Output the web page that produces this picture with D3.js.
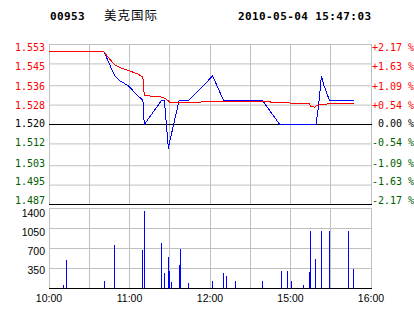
<!DOCTYPE html>
<html><head><meta charset="utf-8">
<script src="https://cdn.jsdelivr.net/npm/d3@7"></script>
<style>body{margin:0;background:#fff}svg{display:block}text{white-space:pre}</style>
</head><body>
<script>
const stockCode = "00953";
const stockName = "美克国际";
const stamp = "2010-05-04 15:47:03";
const priceTicks = [1.553,1.545,1.536,1.528,1.520,1.512,1.503,1.495,1.487];
const pctTicks = ["+2.17 %","+1.63 %","+1.09 %","+0.54 %"," 0.00 %","-0.54 %","-1.09 %","-1.63 %","-2.17 %"];
const volTicks = [1400,1050,700,350];
const timeTicks = ["10:00","10:30","11:00","11:30","12:00","12:30","15:00","15:30","16:00"];
const timeLabels = ["10:00","","11:00","","12:00","","15:00","","16:00"];

const priceTimes = ["10:00","10:41","10:45","10:49","10:53","10:59","11:06","11:10","11:11","11:24","11:26","11:29","11:30","11:37","11:44","12:02","12:10","14:39","14:52","15:19","15:21","15:23","15:24","15:25","15:29","15:47"];
const priceValues = [1.550,1.550,1.545,1.540,1.538,1.536,1.532,1.530,1.520,1.530,1.530,1.510,1.513,1.530,1.530,1.540,1.530,1.530,1.520,1.520,1.528,1.540,1.538,1.536,1.530,1.530];

const avgTimes = ["10:00","10:41","10:44","10:49","10:54","10:59","11:06","11:10","11:11","11:24","11:27","11:30","12:30","14:45","14:46","14:58","15:14","15:15","15:18","15:19","15:21","15:25","15:29","15:47"];
const avgValues = [1.5500,1.5500,1.5478,1.5446,1.5432,1.5423,1.5409,1.5395,1.5320,1.5313,1.5306,1.5292,1.5294,1.5293,1.5291,1.5289,1.5286,1.5275,1.5272,1.5276,1.5280,1.5283,1.5286,1.5286];

const volTimes = ["10:11","10:13","10:41","10:49","11:10","11:11","11:24","11:26","11:29","11:30","11:31","11:37","11:38","11:44","12:02","12:10","12:12","12:19","14:39","14:53","14:58","15:01","15:10","15:14","15:15","15:19","15:23","15:29","15:43","15:47"];
const volValues = [60,500,130,760,680,1350,800,280,550,300,120,410,700,100,130,280,220,130,130,300,300,130,60,290,1000,520,1000,1000,1000,340];

const W = 414, H = 314;
const RED = "#ff0000", GREEN = "#006000", BLUE = "#0000ff", GRID = "#c0c0c0";
const svg = d3.select("body").append("svg").attr("width", W).attr("height", H);

const toMin = t => { const [h, m] = t.split(":").map(Number); let v = h * 60 + m - 600; if (v >= 270) v -= 120; return v; };
const x = d3.scaleLinear().domain([0, 240]).range([49, 371]);
const y = d3.scaleLinear().domain([priceTicks[8], priceTicks[0]]).range([204.5, 44.5]);
const yLab = d3.scaleLinear().domain([priceTicks[8], priceTicks[0]]).range([200, 47.5]);
const yv = d3.scaleLinear().domain([0, 1400]).range([288.5, 208.5]);
const yvLab = d3.scaleLinear().domain([350, 1400]).range([270, 213.5]);
const snap = v => Math.floor(v) + 0.5;
const gx = timeTicks.map(toMin).map((m, i) => i === 5 ? 150 : m);

// header
const hdr = svg.append("g");
hdr.append("text").attr("x", 50).attr("y", 20).attr("font-family", "DejaVu Sans Mono").attr("font-weight", "bold")
  .attr("font-size", 11).attr("letter-spacing", 0.4).text(stockCode);
hdr.append("text").attr("x", 104).attr("y", 20).attr("font-family", "Noto Sans CJK SC").attr("font-size", 12.5)
  .attr("letter-spacing", 1).text(stockName);
hdr.append("text").attr("x", 238).attr("y", 20).attr("font-family", "DejaVu Sans Mono").attr("font-weight", "bold")
  .attr("font-size", 11).attr("letter-spacing", 0.4).text(stamp);

// main panel grid
const main = svg.append("g");
main.selectAll("line.vg").data(gx).join("line")
  .attr("x1", d => snap(x(d))).attr("x2", d => snap(x(d)))
  .attr("y1", y(priceTicks[0])).attr("y2", y(priceTicks[8])).attr("stroke", GRID);
main.selectAll("line.hg").data(priceTicks).join("line")
  .attr("x1", x(0)).attr("x2", x(240) + 1)
  .attr("y1", d => y(d)).attr("y2", d => y(d))
  .attr("stroke", (d, i) => (i === 4 || i === 8) ? "#000" : GRID);

main.selectAll("text.pl").data(priceTicks).join("text")
  .attr("x", 45).attr("y", d => yLab(d) + 3.6).attr("text-anchor", "end")
  .attr("font-family", "DejaVu Sans Mono").attr("font-size", 10)
  .attr("fill", (d, i) => i < 4 ? RED : i === 4 ? "#000" : GREEN)
  .text(d => d.toFixed(3));
main.selectAll("text.pr").data(pctTicks).join("text")
  .attr("x", 372).attr("y", (d, i) => yLab(priceTicks[i]) + 3.6)
  .attr("font-family", "DejaVu Sans Mono").attr("font-size", 10)
  .attr("fill", (d, i) => i < 4 ? RED : i === 4 ? "#000" : GREEN)
  .text(d => d);

const line = d3.line().x(d => x(toMin(d[0]))).y(d => y(d[1]));
main.append("path").datum(priceTimes.map((t, i) => [t, priceValues[i]]))
  .attr("d", line).attr("fill", "none").attr("stroke", BLUE).attr("stroke-width", 1).attr("shape-rendering", "crispEdges");
main.append("path").datum(avgTimes.map((t, i) => [t, avgValues[i]]))
  .attr("d", line).attr("fill", "none").attr("stroke", RED).attr("stroke-width", 1).attr("shape-rendering", "crispEdges");

// volume panel
const vol = svg.append("g");
vol.selectAll("line.vg").data(gx).join("line")
  .attr("x1", d => snap(x(d))).attr("x2", d => snap(x(d)))
  .attr("y1", yv(1400)).attr("y2", yv(0)).attr("stroke", GRID);
vol.selectAll("line.hg").data(volTicks).join("line")
  .attr("x1", x(0)).attr("x2", x(240) + 1)
  .attr("y1", d => yv(d)).attr("y2", d => yv(d)).attr("stroke", GRID);
vol.append("line").attr("x1", x(0)).attr("x2", x(240) + 1).attr("y1", yv(0)).attr("y2", yv(0)).attr("stroke", "#000");

vol.selectAll("line.bar").data(volTimes.map((t, i) => [t, volValues[i]])).join("line")
  .attr("x1", d => snap(x(toMin(d[0])))).attr("x2", d => snap(x(toMin(d[0]))))
  .attr("y1", yv(0)).attr("y2", d => Math.round(yv(d[1])))
  .attr("stroke", BLUE).attr("stroke-width", 1);

vol.selectAll("text.vl").data(volTicks).join("text")
  .attr("x", 45).attr("y", d => yvLab(d) + 3.8).attr("text-anchor", "end")
  .attr("font-family", "Liberation Sans").attr("font-size", 10.5).attr("fill", "#000")
  .text(d => d);

vol.selectAll("text.tl").data(timeLabels).join("text")
  .attr("x", (d, i) => x(gx[i])).attr("y", 302.3).attr("text-anchor", "middle")
  .attr("font-family", "Liberation Sans").attr("font-size", 10.5).attr("fill", "#000")
  .text(d => d);
</script>
</body></html>
